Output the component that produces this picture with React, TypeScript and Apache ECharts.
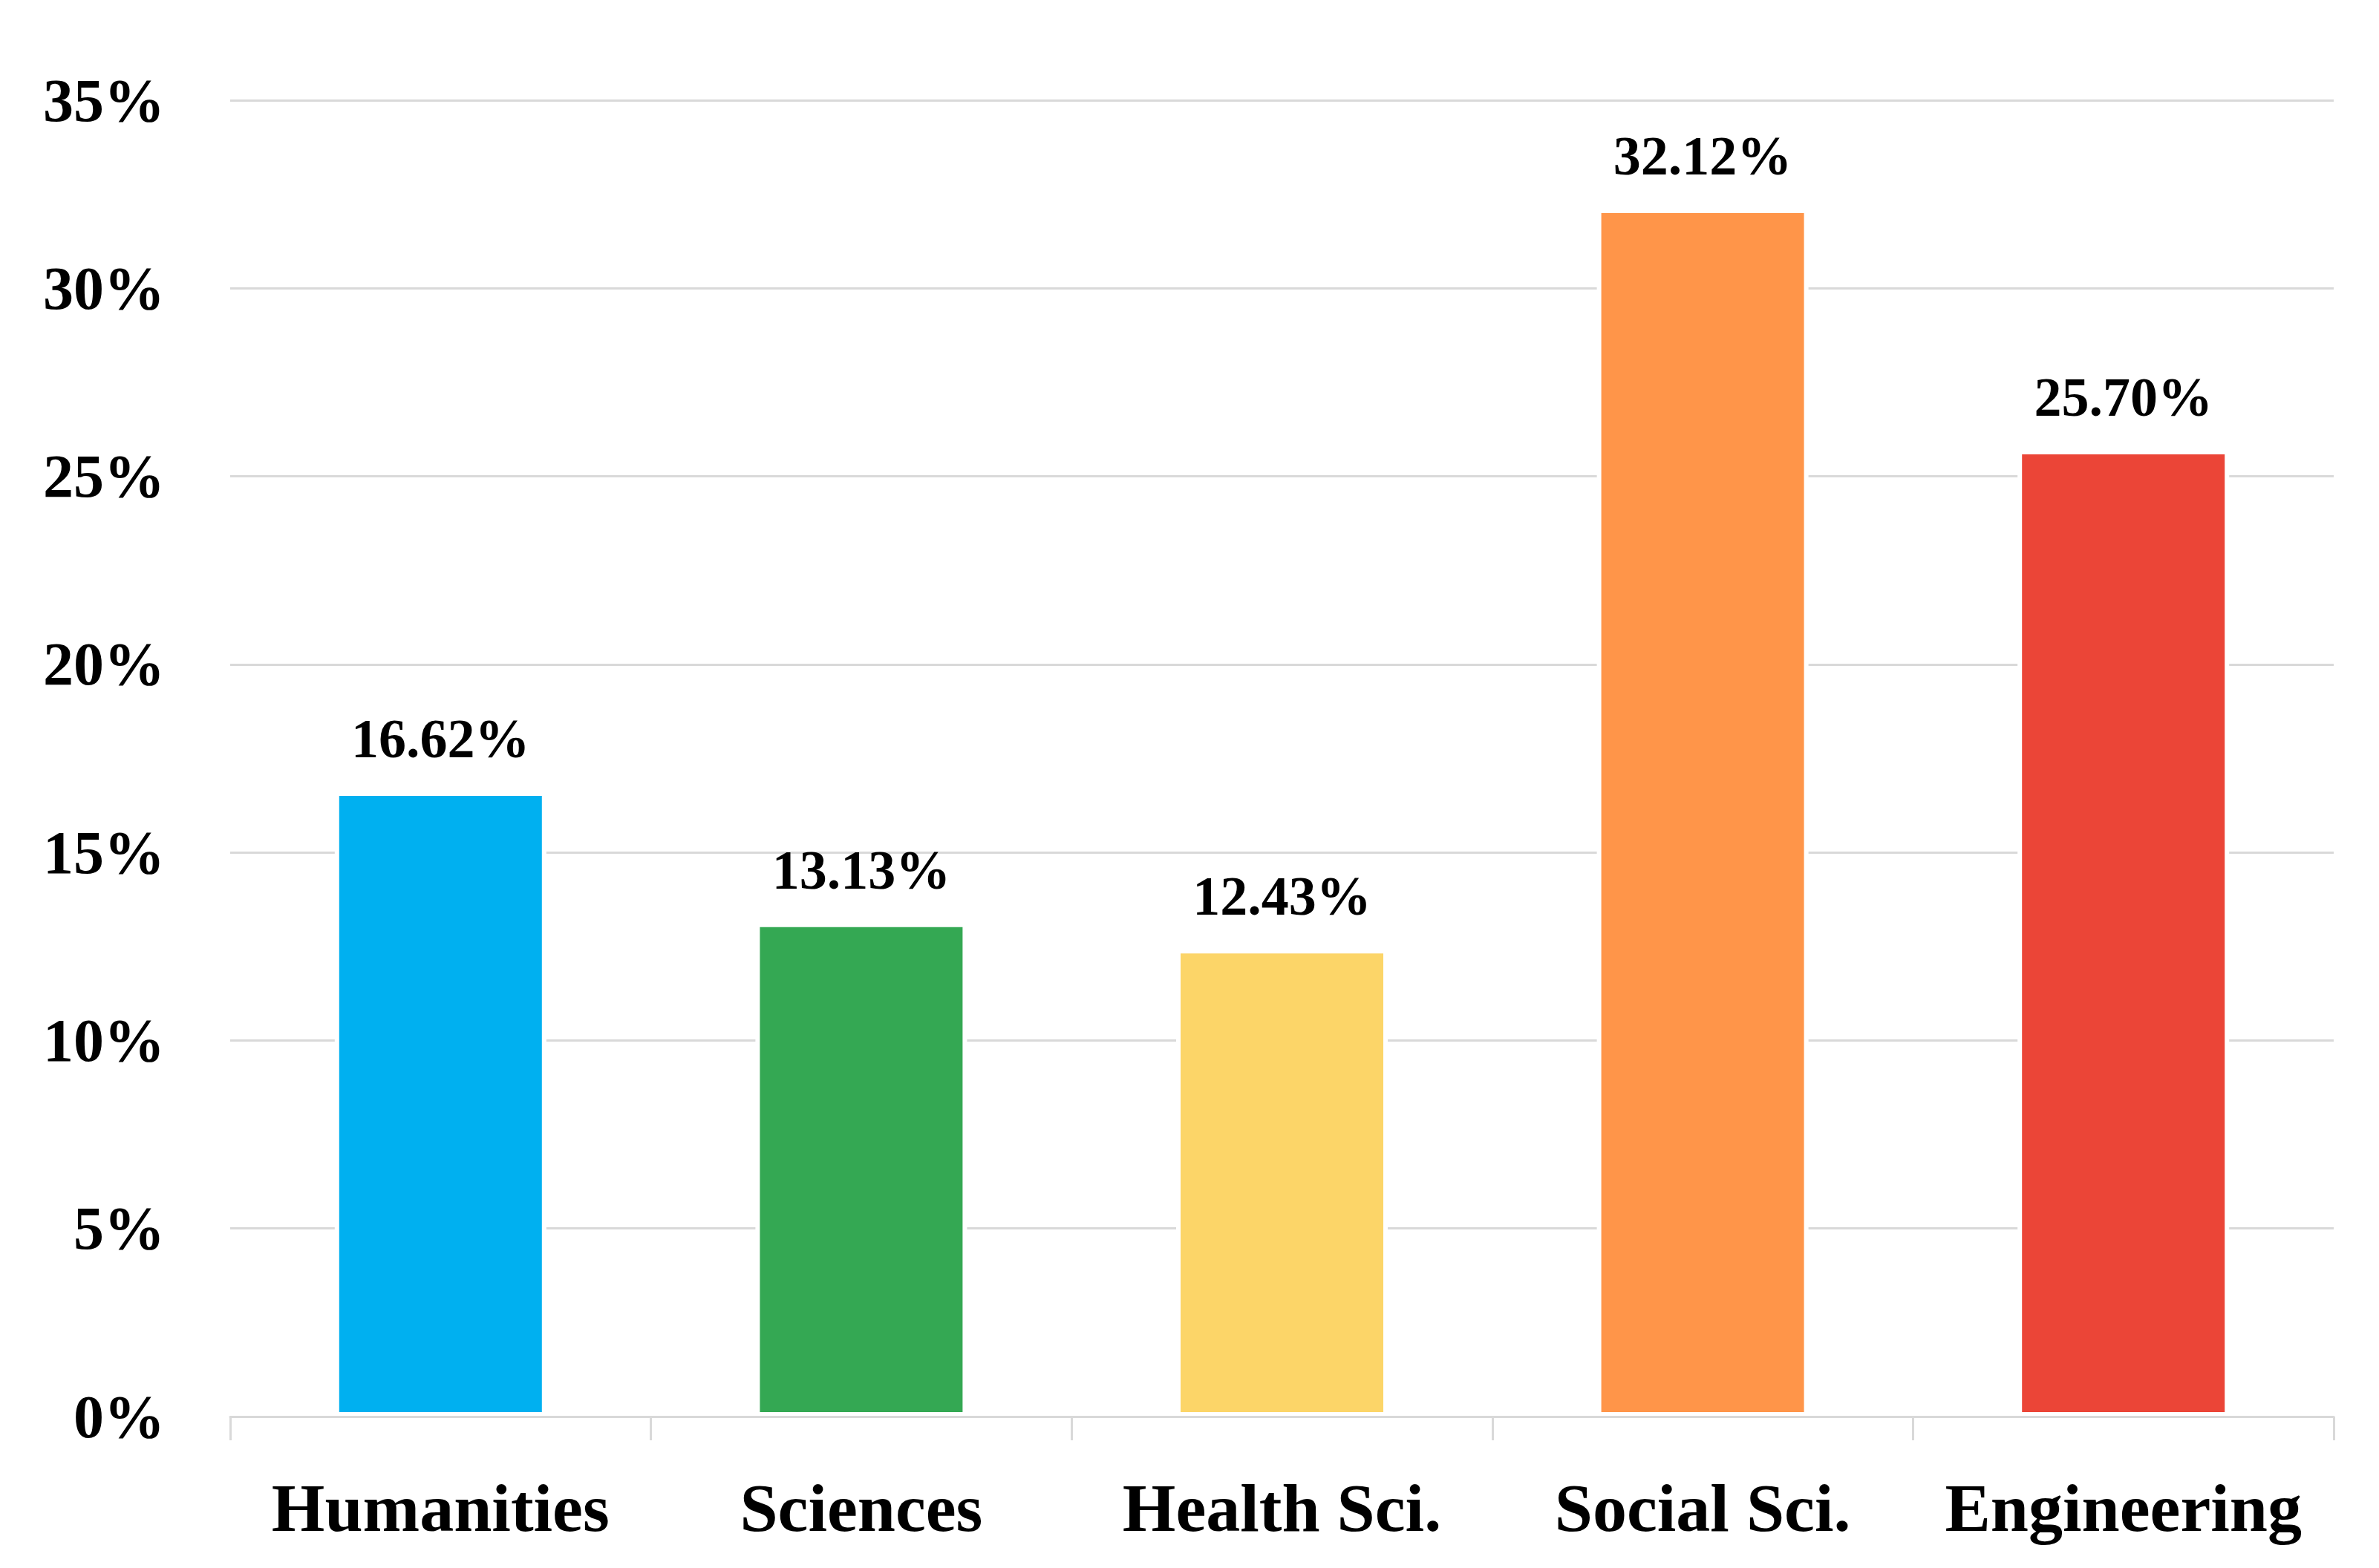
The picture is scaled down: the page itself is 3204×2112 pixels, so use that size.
import React, { useEffect, useRef } from "react";
import * as echarts from "echarts";

const categories = ["Humanities", "Sciences", "Health Sci.", "Social Sci.", "Engineering"];
const values = [16.62, 13.13, 12.43, 32.12, 25.7];
const barColors = ["#00B0F0", "#34A853", "#FCD568", "#FF9549", "#EB4537"];
const yTicks = { min: 0, max: 35, interval: 5 };

const FONT = "'Liberation Serif', 'DejaVu Serif', serif";

export default function App() {
  const ref = useRef<HTMLDivElement>(null);
  useEffect(() => {
    if (!ref.current) return;
    const chart = echarts.init(ref.current, null, { renderer: "svg" });
    chart.setOption({
      animation: false,
      backgroundColor: "#ffffff",
      grid: { left: 310, right: 61, top: 135, bottom: 204, containLabel: false },
      xAxis: {
        type: "category",
        data: categories,
        z: 5,
        axisLine: { show: true, lineStyle: { color: "#d9d9d9", width: 3 } },
        axisTick: { show: true, interval: 0, length: 32, lineStyle: { color: "#d9d9d9", width: 3 } },
        axisLabel: {
          interval: 0,
          margin: 77,
          fontFamily: FONT,
          fontWeight: "bold",
          fontSize: 92,
          color: "#000000",
        },
      },
      yAxis: {
        type: "value",
        min: yTicks.min,
        max: yTicks.max,
        interval: yTicks.interval,
        axisLine: { show: false },
        axisTick: { show: false },
        splitLine: { show: true, lineStyle: { color: "#d9d9d9", width: 3 } },
        axisLabel: {
          margin: 88,
          fontFamily: FONT,
          fontWeight: "bold",
          fontSize: 82,
          color: "#000000",
          formatter: "{value}%",
        },
      },
      series: [
        {
          type: "bar",
          barWidth: 285,
          data: values.map((v, i) => ({
            value: v,
            itemStyle: { color: barColors[i], borderColor: "#ffffff", borderWidth: 6 },
          })),
          label: {
            show: true,
            position: "top",
            distance: 34,
            fontFamily: FONT,
            fontWeight: "bold",
            fontSize: 74,
            color: "#000000",
            formatter: (p: any) => Number(p.value).toFixed(2) + "%",
          },
        },
      ],
    });
    return () => chart.dispose();
  }, []);
  return (
    <div
      ref={ref}
      style={{ position: "fixed", left: 0, top: 0, width: 3204, height: 2112, background: "#fff" }}
    />
  );
}
